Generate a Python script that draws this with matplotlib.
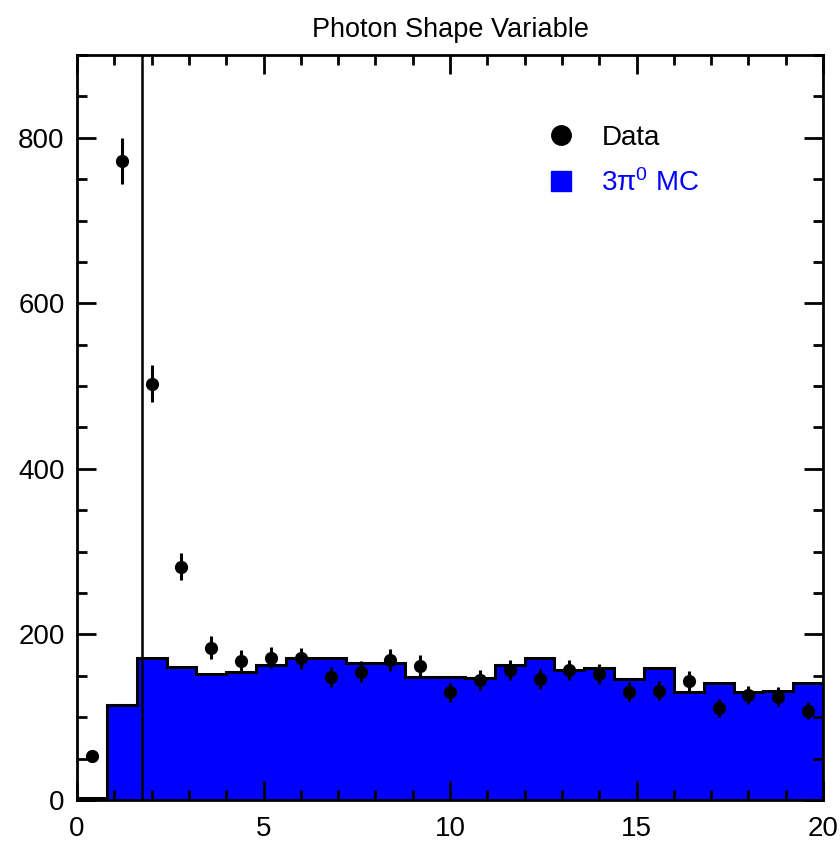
import numpy as np
import matplotlib
matplotlib.use("Agg")
import matplotlib.pyplot as plt
from matplotlib.lines import Line2D
from matplotlib.ticker import MultipleLocator

plt.rcParams['font.family'] = ['Liberation Sans', 'DejaVu Sans']
plt.rcParams['mathtext.fontset'] = 'custom'
plt.rcParams['mathtext.rm'] = 'Liberation Sans'
plt.rcParams['mathtext.it'] = 'Liberation Sans'

# 25 bins of width 0.8 between 0 and 20
edges = np.linspace(0, 20, 26)
centers = 0.5 * (edges[:-1] + edges[1:])

# 3pi0 MC histogram contents
mc = [2, 115, 171, 161, 152, 155, 163, 172, 172, 165, 165, 149, 148,
      147, 163, 171, 157, 160, 146, 159, 131, 141, 130, 132, 141]

# data counts
data = [53, 772, 503, 282, 184, 168, 172, 171, 149, 155, 169, 162, 130,
        145, 157, 146, 157, 152, 131, 132, 144, 111, 127, 125, 108]
data_err = np.sqrt(data)

cut_x = 1.75

fig = plt.figure(figsize=(8.4, 8.42), dpi=100)
ax = fig.add_axes([0.0917, 0.0499, 0.8881, 0.8848])

ax.stairs(mc, edges, fill=True, color='#0000ff', zorder=1)
ax.stairs(mc, edges, color='black', lw=2.2, zorder=2)
ax.axvline(cut_x, color='black', lw=1.8, zorder=3)
ax.errorbar(centers, data, yerr=data_err, fmt='o', color='black',
            ms=8.5, elinewidth=2.2, capsize=0, zorder=4)

ax.set_xlim(0, 20)
ax.set_ylim(0, 900)
ax.set_title("Photon Shape Variable", fontsize=19.5, pad=13)

ax.xaxis.set_major_locator(MultipleLocator(5))
ax.xaxis.set_minor_locator(MultipleLocator(1))
ax.yaxis.set_major_locator(MultipleLocator(200))
ax.yaxis.set_minor_locator(MultipleLocator(50))
ax.tick_params(which='both', direction='in', top=True, right=True,
               labelsize=20, width=2)
ax.tick_params(which='major', length=14, pad=9)
ax.tick_params(which='minor', length=7)
ax.tick_params(axis='x', which='major', pad=11.5)
for s in ax.spines.values():
    s.set_linewidth(2)

handles = [
    Line2D([], [], marker='o', color='black', ls='none', ms=14),
    Line2D([], [], marker='s', color='#0000ff', ls='none', ms=14),
]
leg = ax.legend(handles, ["Data", "3π$^{0}$ MC"], loc='upper left',
                bbox_to_anchor=(0.578, 0.94), frameon=False, fontsize=20,
                handletextpad=0.45, labelspacing=0.65,
                labelcolor=['black', '#0000ff'])

fig.savefig("out.png", dpi=100)
